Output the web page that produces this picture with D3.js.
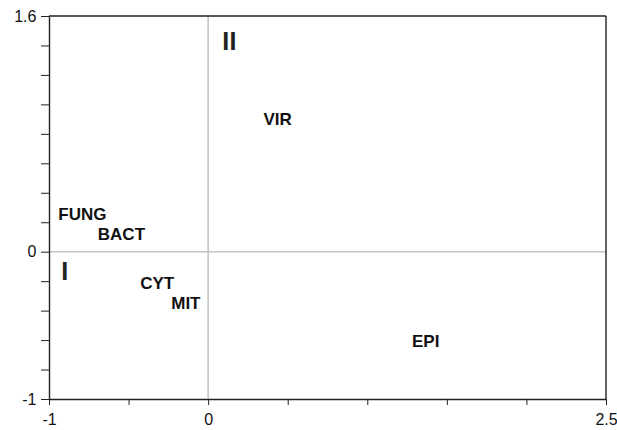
<!DOCTYPE html>
<html>
<head>
<meta charset="utf-8">
<script src="https://cdn.jsdelivr.net/npm/d3@7"></script>
<style>
  html, body { margin: 0; padding: 0; background: #fff; }
  svg { display: block; }
</style>
</head>
<body>
<svg id="chart" width="617" height="430"></svg>
<script>
// ---- data ----
const labels = ["FUNG", "BACT", "CYT", "MIT", "VIR", "EPI"];
const xVals  = [-0.79, -0.545, -0.32, -0.14, 0.437, 1.367];
const yVals  = [0.256, 0.12, -0.212, -0.35, 0.901, -0.604];
const quadrantNames = ["II", "I"];
const quadrantX = [0.135, -0.9];
const quadrantY = [1.43, -0.13];
const xTicks = [-1, -0.5, 0, 0.5, 1, 1.5, 2, 2.5];
const xTickLabels = [-1, 0, 2.5];
const yTicks = [-1, -0.8, -0.6, -0.4, -0.2, 0, 0.2, 0.4, 0.6, 0.8, 1, 1.2, 1.4, 1.6];
const yTickLabels = [-1, 0, 1.6];

// ---- layout ----
const W = 617, H = 430;
const margin = { left: 49, right: 11, top: 16, bottom: 31 };
const svg = d3.select("#chart");
const x = d3.scaleLinear().domain([-1, 2.5]).range([margin.left, W - margin.right]);
const y = d3.scaleLinear().domain([-1, 1.6]).range([H - margin.bottom, margin.top]);
const fmt = d => (d === 2.5 || d === 1.6) ? d.toFixed(1) : String(d);

// zero lines
svg.append("line")
  .attr("x1", x(0)).attr("x2", x(0)).attr("y1", y(1.6)).attr("y2", y(-1))
  .attr("stroke", "#c4c4c4").attr("stroke-width", 1.6);
svg.append("line")
  .attr("x1", x(-1)).attr("x2", x(2.5)).attr("y1", y(0)).attr("y2", y(0))
  .attr("stroke", "#c4c4c4").attr("stroke-width", 1.6);

// frame (top & right)
svg.append("line")
  .attr("x1", x(-1)).attr("x2", x(2.5)).attr("y1", y(1.6)).attr("y2", y(1.6))
  .attr("stroke", "#222").attr("stroke-width", 1.4);
svg.append("line")
  .attr("x1", x(2.5)).attr("x2", x(2.5)).attr("y1", y(1.6)).attr("y2", y(-1))
  .attr("stroke", "#222").attr("stroke-width", 1.4);

// axes
const xAxis = d3.axisBottom(x).tickValues(xTicks).tickSize(6).tickSizeOuter(0)
  .tickFormat(d => xTickLabels.includes(d) ? fmt(d) : "");
const yAxis = d3.axisLeft(y).tickValues(yTicks).tickSize(8).tickSizeOuter(0)
  .tickFormat(d => yTickLabels.some(v => Math.abs(v - d) < 1e-9) ? fmt(d) : "");

const gx = svg.append("g").attr("transform", `translate(0,${y(-1)})`).call(xAxis);
const gy = svg.append("g").attr("transform", `translate(${x(-1)},0)`).call(yAxis);

[gx, gy].forEach(g => {
  g.select(".domain").attr("stroke", "#222").attr("stroke-width", 1.4);
  g.selectAll(".tick line").attr("stroke", "#222").attr("stroke-width", 1);
  g.selectAll(".tick text")
    .attr("font-family", "'Liberation Sans', Arial, sans-serif")
    .attr("font-size", 16).attr("fill", "#111");
});
gx.selectAll(".tick text").attr("dy", "1.05em");
gy.selectAll(".tick text").attr("dx", "-0.1em");

// point labels
svg.append("g").selectAll("text")
  .data(labels)
  .join("text")
  .attr("x", (d, i) => x(xVals[i]))
  .attr("y", (d, i) => y(yVals[i]))
  .attr("dy", "0.36em")
  .attr("text-anchor", "middle")
  .attr("font-family", "'Liberation Sans', Arial, sans-serif")
  .attr("font-weight", "bold")
  .attr("font-size", 17)
  .attr("fill", "#111")
  .text(d => d);

// quadrant labels
svg.append("g").selectAll("text")
  .data(quadrantNames)
  .join("text")
  .attr("x", (d, i) => x(quadrantX[i]))
  .attr("y", (d, i) => y(quadrantY[i]))
  .attr("dy", "0.36em")
  .attr("text-anchor", "middle")
  .attr("font-family", "'Liberation Sans', Arial, sans-serif")
  .attr("font-weight", "bold")
  .attr("font-size", 25)
  .attr("letter-spacing", 0.5)
  .attr("fill", "#222")
  .text(d => d);
</script>
</body>
</html>
